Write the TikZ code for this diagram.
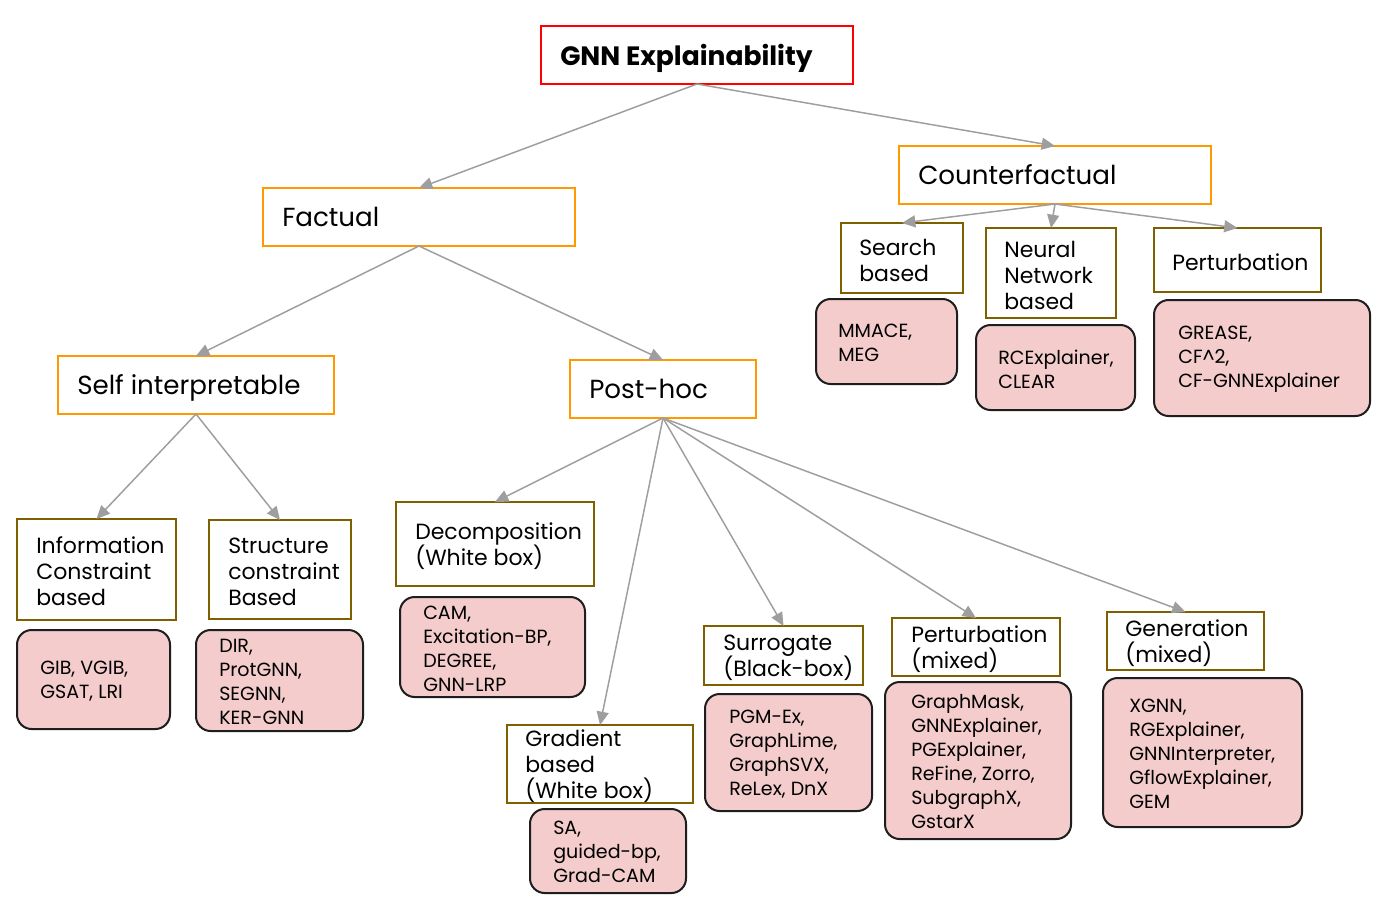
\documentclass[tikz,border=0pt]{standalone}
\usepackage{fontspec}
\setmainfont{Poppins}
\usetikzlibrary{arrows.meta,fit}
\definecolor{cred}{HTML}{FF0000}
\definecolor{corange}{HTML}{FF9900}
\definecolor{colive}{HTML}{7F6000}
\definecolor{cpink}{HTML}{F4CCCC}
\definecolor{cdark}{HTML}{1E1E1E}
\definecolor{cgray}{HTML}{9E9E9E}
\tikzset{
  boxbase/.style={inner sep=0pt, outer sep=0pt, line width=1.5pt},
  redbox/.style={boxbase, draw=cred},
  orbox/.style={boxbase, draw=corange},
  olbox/.style={boxbase, draw=colive},
  pkbox/.style={boxbase, draw=cdark, fill=cpink, rounded corners=11pt},
  tbase/.style={anchor=west, inner sep=0pt, align=left},
  ttl/.style={tbase, text depth=0pt, font=\bfseries\fontsize{19.9pt}{24pt}\selectfont},
  lone/.style={tbase, text depth=0pt, font=\fontsize{19.6pt}{24pt}\selectfont},
  ltwo/.style={tbase, yshift=-1.5pt, font=\fontsize{16.5pt}{19.5pt}\selectfont},
  lst/.style={tbase, yshift=-1pt, font=\fontsize{14.3pt}{18pt}\selectfont},
  arr/.style={draw=cgray, line width=1.1pt, -{Triangle[length=10pt,width=9pt]}}
}
\setlength{\lineskiplimit}{-20pt}
\begin{document}
\setlength{\lineskiplimit}{-20pt}
\begin{tikzpicture}[x=0.75pt,y=-0.75pt]
\useasboundingbox[fill=white] (0,0) rectangle (1383,904);
% top
\node[redbox, fit={(541,26)(853,84)}] (gnn) {};
\node[ttl] (gnn-t) at ([xshift=19*0.75pt]gnn.west) {GNN Explainability};
% level 1
\node[orbox, fit={(263,188)(575,246)}] (fact) {};
\node[lone] (fact-t) at ([xshift=19*0.75pt]fact.west) {Factual};
\node[orbox, fit={(899,146)(1211,204)}] (cf) {};
\node[lone] (cf-t) at ([xshift=19*0.75pt]cf.west) {Counterfactual};
\node[orbox, fit={(58,356)(334,414)}] (self) {};
\node[lone] (self-t) at ([xshift=19*0.75pt]self.west) {Self interpretable};
\node[orbox, fit={(570,360)(756,418)}] (post) {};
\node[lone] (post-t) at ([xshift=19*0.75pt]post.west) {Post-hoc};
% counterfactual children
\node[olbox, fit={(841,223)(963,293)}] (search) {};
\node[ltwo] (search-t) at ([xshift=18*0.75pt]search.west) {Search\\based};
\node[olbox, fit={(986,228)(1116,318)}] (neural) {};
\node[ltwo] (neural-t) at ([xshift=18*0.75pt]neural.west) {Neural\\Network\\based};
\node[olbox, fit={(1154,228)(1321,292)}] (pertcf) {};
\node[ltwo] (pertcf-t) at ([xshift=18*0.75pt]pertcf.west) {Perturbation};
\node[pkbox, fit={(816,299)(957,384)}] (mmace) {};
\node[lst] (mmace-t) at ([xshift=22*0.75pt]mmace.west) {MMACE,\\MEG};
\node[pkbox, fit={(976,325)(1135,410)}] (rce) {};
\node[lst] (rce-t) at ([xshift=22*0.75pt]rce.west) {RCExplainer,\\CLEAR};
\node[pkbox, fit={(1154,300)(1370,416)}] (grease) {};
\node[lst] (grease-t) at ([xshift=24*0.75pt]grease.west) {GREASE,\\CF\textasciicircum2,\\CF-GNNExplainer};
% self interpretable children
\node[olbox, fit={(17,519)(176,620)}] (info) {};
\node[ltwo] (info-t) at ([xshift=19*0.75pt]info.west) {Information\\Constraint\\based};
\node[olbox, fit={(209,520)(351,619)}] (struct) {};
\node[ltwo] (struct-t) at ([xshift=19*0.75pt]struct.west) {Structure\\constraint\\Based};
\node[pkbox, fit={(17,630)(170,729)}] (gib) {};
\node[lst] (gib-t) at ([xshift=23*0.75pt]gib.west) {GIB, VGIB,\\GSAT, LRI};
\node[pkbox, fit={(196,630)(363,731)}] (dir) {};
\node[lst] (dir-t) at ([xshift=23*0.75pt]dir.west) {DIR,\\ProtGNN,\\SEGNN,\\KER-GNN};
% post-hoc children
\node[olbox, fit={(396,502)(594,586)}] (decomp) {};
\node[ltwo] (decomp-t) at ([xshift=19*0.75pt]decomp.west) {Decomposition\\(White box)};
\node[pkbox, fit={(400,597)(585,697)}] (cam) {};
\node[lst] (cam-t) at ([xshift=23*0.75pt]cam.west) {CAM,\\Excitation-BP,\\DEGREE,\\GNN-LRP};
\node[olbox, fit={(507,725)(693,803)}] (grad) {};
\node[ltwo] (grad-t) at ([xshift=18*0.75pt]grad.west) {Gradient\\based\\(White box)};
\node[pkbox, fit={(530,809)(686,893)}] (sa) {};
\node[lst] (sa-t) at ([xshift=23*0.75pt]sa.west) {SA,\\guided-bp,\\Grad-CAM};
\node[olbox, fit={(704,626)(863,685)}] (surr) {};
\node[ltwo] (surr-t) at ([xshift=19*0.75pt]surr.west) {Surrogate\\(Black-box)};
\node[pkbox, fit={(705,694)(872,811)}] (pgm) {};
\node[lst] (pgm-t) at ([xshift=24*0.75pt]pgm.west) {PGM-Ex,\\GraphLime,\\GraphSVX,\\ReLex, DnX};
\node[olbox, fit={(892,618)(1060,676)}] (pertm) {};
\node[ltwo] (pertm-t) at ([xshift=19*0.75pt]pertm.west) {Perturbation\\(mixed)};
\node[pkbox, fit={(885,682)(1071,839)}] (gm) {};
\node[lst] (gm-t) at ([xshift=26*0.75pt]gm.west) {GraphMask,\\GNNExplainer,\\PGExplainer,\\ReFine, Zorro,\\SubgraphX,\\GstarX};
\node[olbox, fit={(1107,612)(1264,670)}] (gen) {};
\node[ltwo] (gen-t) at ([xshift=18*0.75pt]gen.west) {Generation\\(mixed)};
\node[pkbox, fit={(1103,678)(1302,827)}] (xgnn) {};
\node[lst] (xgnn-t) at ([xshift=26*0.75pt]xgnn.west) {XGNN,\\RGExplainer,\\GNNInterpreter,\\GflowExplainer,\\GEM};
% connectors
\draw[arr] (gnn.south) -- (fact.north);
\draw[arr] (gnn.south) -- (cf.north);
\draw[arr] (fact.south) -- (self.north);
\draw[arr] (fact.south) -- (post.north);
\draw[arr] (cf.south) -- (search.north);
\draw[arr] (cf.south) -- (neural.north);
\draw[arr] (cf.south) -- (pertcf.north);
\draw[arr] (self.south) -- (info.north);
\draw[arr] (self.south) -- (struct.north);
\draw[arr] (post.south) -- (decomp.north);
\draw[arr] (post.south) -- (grad.north);
\draw[arr] (post.south) -- (surr.north);
\draw[arr] (post.south) -- (pertm.north);
\draw[arr] (post.south) -- (gen.north);
\end{tikzpicture}
\end{document}
